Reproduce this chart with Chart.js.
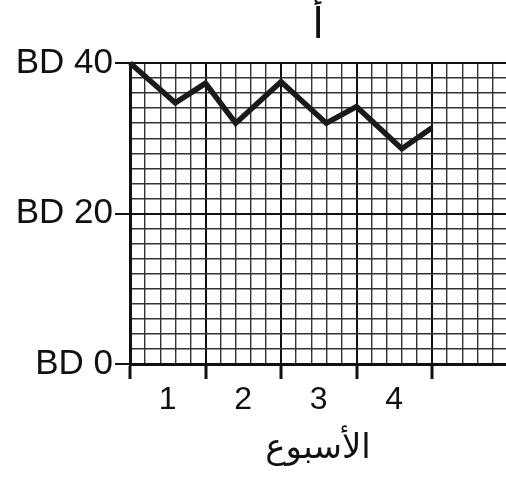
<!DOCTYPE html>
<html>
<head>
<meta charset="utf-8">
<script src="https://cdn.jsdelivr.net/npm/chart.js@4"></script>
<style>
  body { margin: 0; background: #fff; }
  #wrap { width: 506px; height: 488px; position: relative; }
</style>
</head>
<body>
<div id="wrap"><canvas id="chart"></canvas></div>
<script>
// Data
const weeks = [0, 0.6, 1, 1.4, 2, 2.6, 3, 3.6, 4];
const amounts = [40, 34.7, 37.3, 32, 37.5, 32, 34.2, 28.6, 31.4];
const weekLabels = ['1', '2', '3', '4'];
const amountLabels = [0, 20, 40];
const chartTitle = 'أ';
const xTitle = 'الأسبوع';

const font = "'Liberation Sans', Arial, 'DejaVu Sans', sans-serif";

// helpers for the graph-paper grid
const tenth = v => Math.round(v * 10);

const ctx = document.getElementById('chart').getContext('2d');
new Chart(ctx, {
  type: 'line',
  data: {
    datasets: [{
      data: weeks.map((w, i) => ({ x: w, y: amounts[i] })),
      borderColor: '#1a1a1a',
      borderWidth: 5.5,
      pointRadius: 0,
      tension: 0,
      clip: false
    }]
  },
  options: {
    responsive: true,
    maintainAspectRatio: false,
    animation: false,
    layout: { padding: 0 },
    plugins: {
      legend: { display: false },
      tooltip: { enabled: false },
      title: {
        display: true,
        text: chartTitle,
        fullSize: false,
        color: '#111',
        font: { family: font, size: 42, weight: 'normal' },
        padding: { top: 1, bottom: 11.6 }
      }
    },
    scales: {
      x: {
        type: 'linear',
        min: 0,
        max: 4.98,
        afterFit: scale => { scale.height = 124; },
        border: { display: true, color: '#111', width: 3 },
        grid: {
          drawTicks: true,
          tickLength: 15,
          color: c => {
            const k = tenth(c.tick.value);
            if (k % 10 === 0) return '#111';
            return k % 2 === 0 ? '#333' : 'rgba(0,0,0,0)';
          },
          lineWidth: c => (tenth(c.tick.value) % 10 === 0 ? 2 : 1.4),
          tickColor: c => (tenth(c.tick.value) % 10 === 0 ? '#111' : 'rgba(0,0,0,0)'),
          tickWidth: 3
        },
        ticks: {
          stepSize: 0.1,
          autoSkip: false,
          includeBounds: false,
          maxRotation: 0,
          padding: 2,
          color: '#111',
          font: { family: font, size: 32 },
          callback: v => {
            const k = tenth(v);
            if (k % 10 !== 5) return '';
            return weekLabels[(k - 5) / 10] || '';
          }
        },
        title: {
          display: true,
          text: xTitle,
          color: '#111',
          font: { family: font, size: 34 },
          padding: { top: 0, bottom: 19 }
        }
      },
      y: {
        type: 'linear',
        min: 0,
        max: 40,
        afterFit: scale => { scale.width = 130; },
        border: { display: true, color: '#111', width: 3 },
        grid: {
          drawTicks: true,
          tickLength: 15,
          color: c => (c.tick.value % 20 === 0 ? '#111' : '#333'),
          lineWidth: c => (c.tick.value % 20 === 0 ? 2 : 1.4),
          tickColor: c => (amountLabels.includes(c.tick.value) ? '#111' : 'rgba(0,0,0,0)'),
          tickWidth: 2
        },
        ticks: {
          stepSize: 2,
          autoSkip: false,
          padding: 2,
          color: '#111',
          font: { family: font, size: 35 },
          callback: v => (amountLabels.includes(v) ? 'BD ' + v : '')
        }
      }
    }
  }
});
</script>
</body>
</html>
